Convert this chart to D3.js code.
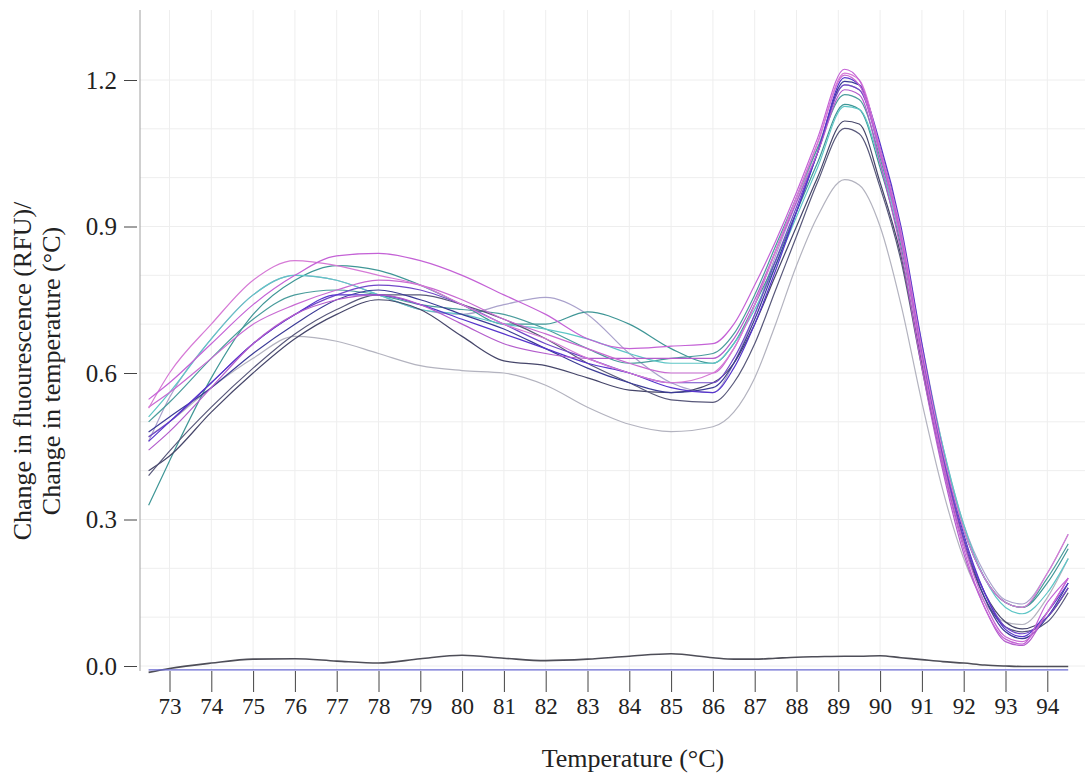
<!DOCTYPE html>
<html>
<head>
<meta charset="utf-8">
<script src="https://cdn.jsdelivr.net/npm/d3@7"></script>
<style>
  body { margin: 0; background: #fff; }
  svg { display: block; }
  text { font-family: "Liberation Serif", "Times New Roman", serif; fill: #222; }
</style>
</head>
<body>
<svg width="1092" height="775"></svg>
<script>
// melt curve, -dF/dT vs temperature
const temps = [72.5, 73, 74, 75, 76, 77, 78, 79, 80, 81, 82, 83, 84, 85, 86, 86.5, 87, 87.5, 88, 88.5, 89.15, 89.5, 90, 90.5, 91, 91.5, 92, 92.5, 93, 93.4, 94, 94.5];

const xTicks = d3.range(73, 95);
const yTicks = [0, 0.3, 0.6, 0.9, 1.2];
const yGrid = d3.range(0, 13).map(d => d / 10);

const wellA = [0.546,0.58,0.66,0.74,0.80,0.84,0.845,0.83,0.80,0.76,0.72,0.67,0.65,0.655,0.66, 0.70,0.78,0.87,0.97,1.08,1.222,1.20,1.05,0.88,0.63,0.41,0.24,0.12,0.055,0.045,0.13,0.18];
const wellB = [0.528,0.60,0.70,0.79,0.83,0.82,0.80,0.78,0.74,0.70,0.67,0.63,0.60,0.58,0.60, 0.65,0.74,0.85,0.96,1.07,1.214,1.20,1.06,0.89,0.65,0.44,0.28,0.18,0.13,0.12,0.19,0.27];
const wellC = [0.329,0.42,0.59,0.72,0.79,0.82,0.81,0.78,0.74,0.70,0.70,0.725,0.70,0.65,0.62, 0.66,0.74,0.83,0.93,1.03,1.15,1.14,1.02,0.86,0.64,0.44,0.28,0.18,0.13,0.12,0.17,0.24];
const wellD = [0.51,0.56,0.67,0.76,0.80,0.79,0.76,0.73,0.72,0.70,0.69,0.67,0.64,0.62,0.62, 0.66,0.73,0.82,0.92,1.02,1.146,1.14,1.03,0.87,0.65,0.45,0.29,0.18,0.12,0.107,0.15,0.22];
const wellE = [0.479,0.51,0.57,0.64,0.70,0.75,0.77,0.75,0.72,0.69,0.65,0.61,0.58,0.56,0.57, 0.62,0.71,0.82,0.93,1.05,1.197,1.19,1.06,0.89,0.65,0.43,0.26,0.14,0.07,0.056,0.10,0.17];
const wellF = [0.469,0.50,0.58,0.66,0.72,0.76,0.78,0.77,0.74,0.70,0.66,0.63,0.60,0.58,0.58, 0.63,0.72,0.83,0.94,1.05,1.19,1.18,1.05,0.88,0.64,0.43,0.26,0.15,0.08,0.066,0.10,0.16];
const wellG = [0.442,0.48,0.57,0.66,0.72,0.75,0.76,0.74,0.70,0.66,0.64,0.63,0.63,0.63,0.63, 0.67,0.75,0.85,0.95,1.05,1.18,1.17,1.03,0.85,0.61,0.40,0.23,0.12,0.05,0.042,0.11,0.18];
const wellH = [0.40,0.43,0.52,0.60,0.67,0.72,0.75,0.73,0.675,0.625,0.615,0.59,0.565,0.56,0.58, 0.62,0.70,0.80,0.90,1.00,1.116,1.11,0.99,0.84,0.62,0.42,0.26,0.15,0.09,0.076,0.10,0.16];
const wellI = [0.39,0.44,0.53,0.61,0.68,0.73,0.76,0.76,0.74,0.71,0.67,0.62,0.58,0.545,0.54, 0.58,0.66,0.77,0.88,0.99,1.101,1.09,0.98,0.83,0.61,0.41,0.25,0.14,0.08,0.07,0.09,0.15];
const wellJ = [0.50,0.54,0.63,0.71,0.76,0.77,0.76,0.74,0.73,0.72,0.69,0.65,0.62,0.63,0.64, 0.68,0.76,0.86,0.96,1.06,1.17,1.16,1.04,0.87,0.64,0.44,0.28,0.18,0.13,0.12,0.18,0.25];
const wellK = [0.46,0.50,0.58,0.66,0.72,0.76,0.76,0.74,0.71,0.68,0.65,0.62,0.60,0.57,0.56, 0.61,0.70,0.81,0.93,1.05,1.205,1.19,1.07,0.90,0.66,0.44,0.27,0.15,0.075,0.06,0.11,0.17];
const wellL = [0.46,0.55,0.67,0.76,0.80,0.79,0.76,0.73,0.72,0.74,0.755,0.72,0.64,0.58,0.56, 0.62,0.72,0.84,0.95,1.06,1.19,1.18,1.06,0.89,0.66,0.45,0.29,0.19,0.135,0.127,0.19,0.27];
const wellM = [0.47,0.50,0.57,0.63,0.675,0.665,0.64,0.615,0.605,0.60,0.575,0.53,0.495,0.48,0.49, 0.52,0.59,0.70,0.82,0.92,0.996,0.985,0.90,0.74,0.54,0.36,0.22,0.13,0.09,0.085,0.14,0.22];
const wellN = [0.53,0.56,0.63,0.70,0.74,0.77,0.79,0.78,0.75,0.71,0.68,0.65,0.62,0.60,0.60, 0.65,0.74,0.85,0.96,1.07,1.21,1.19,1.05,0.87,0.63,0.42,0.25,0.13,0.06,0.05,0.11,0.18];
const ntc = [-0.013,-0.005,0.006,0.014,0.015,0.010,0.006,0.015,0.022,0.016,0.011,0.014,0.020,0.025,0.017, 0.014,0.014,0.016,0.018,0.019,0.020,0.020,0.021,0.017,0.013,0.009,0.006,0.002,0.0,-0.001,-0.001,-0.001];
const blank = [-0.008,-0.008,-0.008,-0.008,-0.008,-0.008,-0.008,-0.008,-0.008,-0.008,-0.008,-0.008,-0.008,-0.008,-0.008,-0.008,-0.008,-0.008,-0.008,-0.008,-0.008,-0.008,-0.008,-0.008,-0.008,-0.008,-0.008,-0.008,-0.008,-0.008,-0.008,-0.008];

const wells = [wellM, wellL, wellC, wellJ, wellD, wellH, wellI, wellE, wellF, wellK, wellG, wellN, wellB, wellA];
const wellColors = ["#b3b3bf", "#aaa2cc", "#3f9696", "#4a9c9c", "#5ec6c6", "#46466a", "#58587a", "#3b3b96", "#7048c8", "#5634cc", "#b35ccc", "#c86ad2", "#d67ad6", "#c462d6"];

const svg = d3.select('svg');
const plotLeft = 140, plotRight = 1085, plotTop = 10, plotBottom = 671;

const x = d3.scaleLinear().domain([73, 94]).range([169.5, 1047.3]);
const y = d3.scaleLinear().domain([0, 1.2]).range([666, 80]);

// grid
svg.append('g').selectAll('line')
  .data(xTicks)
  .enter().append('line')
    .attr('x1', d => x(d)).attr('x2', d => x(d))
    .attr('y1', plotTop).attr('y2', plotBottom)
    .attr('stroke', '#eeeeee');

svg.append('g').selectAll('line')
  .data(yGrid)
  .enter().append('line')
    .attr('x1', plotLeft).attr('x2', plotRight)
    .attr('y1', d => y(d)).attr('y2', d => y(d))
    .attr('stroke', '#eeeeee');

// axes
svg.append('line')
  .attr('x1', plotLeft).attr('x2', plotLeft)
  .attr('y1', plotTop).attr('y2', plotBottom)
  .attr('stroke', '#a0a0a0');

const yAxis = svg.append('g')
  .attr('transform', 'translate(137,0)')
  .call(d3.axisLeft(y).tickValues(yTicks).tickFormat(d3.format('.1f')).tickSize(13).tickPadding(7));
yAxis.select('.domain').remove();
yAxis.selectAll('line').attr('stroke', '#444');
yAxis.selectAll('text').style('font-size', '25px').attr('fill', '#222');

const xAxis = svg.append('g')
  .attr('transform', `translate(0,${plotBottom})`)
  .call(d3.axisBottom(x).tickValues(xTicks).tickFormat(d3.format('d')).tickSize(21).tickPadding(6));
xAxis.select('.domain').remove();
xAxis.selectAll('line').attr('stroke', '#444');
xAxis.selectAll('text').style('font-size', '23px').attr('fill', '#222');

// curves
const line = d3.line()
  .x((d, i) => x(temps[i]))
  .y(d => y(d))
  .curve(d3.curveMonotoneX);

svg.append('g').selectAll('path')
  .data(wells)
  .enter().append('path')
    .attr('d', line)
    .attr('fill', 'none')
    .attr('stroke', (d, i) => wellColors[i])
    .attr('stroke-width', 1.2)
    .attr('stroke-linejoin', 'round');

svg.append('path')
  .attr('d', line(ntc))
  .attr('fill', 'none')
  .attr('stroke', '#4e4e58')
  .attr('stroke-width', 1.6);

svg.append('path')
  .attr('d', line(blank))
  .attr('fill', 'none')
  .attr('stroke', '#6a6ad2')
  .attr('stroke-width', 1.3);

// titles
svg.append('text')
  .attr('x', 633).attr('y', 767)
  .attr('text-anchor', 'middle')
  .style('font-size', '26px')
  .text('Temperature (°C)');

const yTitle = svg.append('text')
  .attr('transform', 'translate(31,371) rotate(-90)')
  .attr('text-anchor', 'middle')
  .style('font-size', '26px');
yTitle.append('tspan').attr('x', 0).attr('y', 0).text('Change in fluourescence (RFU)/');
yTitle.append('tspan').attr('x', 0).attr('y', 29).text('Change in temperature (°C)');
</script>
</body>
</html>
